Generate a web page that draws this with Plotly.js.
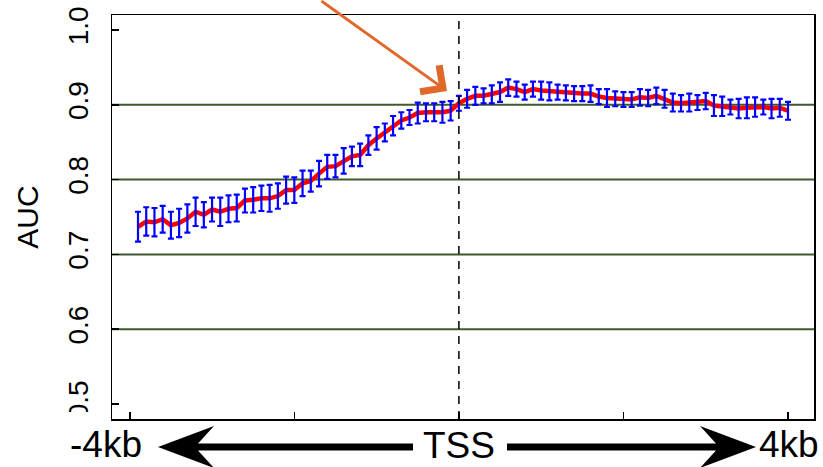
<!DOCTYPE html>
<html><head><meta charset="utf-8">
<script src="https://cdn.plot.ly/plotly-3.0.1.min.js"></script>
<style>html,body{margin:0;padding:0;background:#fff}#chart{width:823px;height:467px}</style>
</head><body><div id="chart"></div><script>
// ---- data (bp relative to TSS) ----
const positions = [-3900,-3800,-3700,-3600,-3500,-3400,-3300,-3200,-3100,-3000,
  -2900,-2800,-2700,-2600,-2500,-2400,-2300,-2200,-2100,-2000,
  -1900,-1800,-1700,-1600,-1500,-1400,-1300,-1200,-1100,-1000,
  -900,-800,-700,-600,-500,-400,-300,-200,-100,0,
  100,200,300,400,500,600,700,800,900,1000,
  1100,1200,1300,1400,1500,1600,1700,1800,1900,2000,
  2100,2200,2300,2400,2500,2600,2700,2800,2900,3000,
  3100,3200,3300,3400,3500,3600,3700,3800,3900,4000];
const auc = [0.737,0.744,0.743,0.747,0.739,0.742,0.748,0.757,0.753,0.760,
  0.757,0.761,0.762,0.772,0.773,0.775,0.775,0.778,0.786,0.786,
  0.795,0.798,0.808,0.817,0.818,0.825,0.831,0.833,0.846,0.855,
  0.863,0.872,0.879,0.883,0.889,0.890,0.890,0.890,0.892,0.902,
  0.908,0.912,0.912,0.914,0.917,0.923,0.921,0.917,0.921,0.919,
  0.918,0.917,0.916,0.915,0.915,0.915,0.911,0.909,0.908,0.907,
  0.907,0.910,0.909,0.912,0.908,0.903,0.902,0.903,0.903,0.905,
  0.899,0.898,0.897,0.895,0.896,0.897,0.897,0.895,0.896,0.892];
const aucErr = [0.020,0.019,0.019,0.018,0.018,0.019,0.019,0.019,0.017,0.016,
  0.019,0.018,0.018,0.016,0.017,0.017,0.018,0.017,0.018,0.017,
  0.017,0.014,0.017,0.016,0.015,0.017,0.013,0.015,0.013,0.015,
  0.012,0.013,0.011,0.010,0.014,0.012,0.012,0.014,0.013,0.010,
  0.012,0.012,0.010,0.012,0.013,0.011,0.010,0.010,0.010,0.012,
  0.012,0.010,0.010,0.010,0.010,0.011,0.010,0.012,0.010,0.010,
  0.010,0.011,0.011,0.011,0.012,0.012,0.011,0.012,0.010,0.011,
  0.014,0.013,0.010,0.013,0.014,0.013,0.010,0.013,0.012,0.012];
const yTickValues = [0.5,0.6,0.7,0.8,0.9,1.0];
const yTickLabels = ['0.5','0.6','0.7','0.8','0.9','1.0'];
const xTickValues = [-4000,-2000,0,2000,4000];
const gridValues = [0.6,0.7,0.8,0.9];
const tssPosition = 0;
const bottomLabels = ['-4kb','TSS','4kb'];
const yTitle = 'AUC';

// ---- geometry helpers (pixel -> paper) ----
const W = 823, H = 467, ML = 112, MR = 9, MT = 15, MB = 48;
const PW = W - ML - MR, PH = H - MT - MB;
const px = v => (v - ML) / PW;
const py = v => (H - MB - v) / PH;
function pathFrom(points){
  return points.map((p,i)=>(i?'L':'M')+px(p[0]).toFixed(5)+','+py(p[1]).toFixed(5)).join(' ')+' Z';
}
const ay0 = 447;
const leftArrow = pathFrom([[158,ay0],[214,ay0-21],[198,ay0-3.5],[413,ay0-3.5],[413,ay0+3.5],[198,ay0+3.5],[214,ay0+21]]);
const rightArrow = pathFrom([[756,ay0],[700,ay0-21],[716,ay0-3.5],[507,ay0-3.5],[507,ay0+3.5],[716,ay0+3.5],[700,ay0+21]]);

const shapes = gridValues.map(g => ({type:'line', xref:'paper', x0:0, x1:1, yref:'y', y0:g, y1:g,
  line:{color:'#3d5a2c', width:2}, layer:'below'}));
shapes.push({type:'line', xref:'x', x0:tssPosition, x1:tssPosition, yref:'paper', y0:0, y1:1,
  line:{color:'#000', width:1.5, dash:'8px,7px'}, layer:'above'});
shapes.push({type:'rect', xref:'paper', x0:px(0), x1:px(110.5), yref:'paper', y0:py(467), y1:py(412),
  fillcolor:'#fff', line:{width:0}, layer:'above'});
shapes.push({type:'path', xref:'paper', yref:'paper', path:leftArrow, fillcolor:'#000', line:{width:0}, layer:'above'});
shapes.push({type:'path', xref:'paper', yref:'paper', path:rightArrow, fillcolor:'#000', line:{width:0}, layer:'above'});

const bottomFont = {family:'Liberation Sans, Arial, sans-serif', size:37, color:'#000'};
const annotations = [
  {text:bottomLabels[0], xref:'paper', yref:'paper', x:px(106), y:py(444), xanchor:'center', yanchor:'middle', showarrow:false, font:bottomFont},
  {text:bottomLabels[1], xref:'paper', yref:'paper', x:px(459), y:py(445), xanchor:'center', yanchor:'middle', showarrow:false, font:bottomFont},
  {text:bottomLabels[2], xref:'paper', yref:'paper', x:px(789), y:py(444), xanchor:'center', yanchor:'middle', showarrow:false, font:bottomFont},
  {text:'', xref:'paper', yref:'paper', x:px(447), y:py(91), ax:-127, ay:-97, showarrow:true,
   arrowhead:4, arrowsize:2.1, arrowwidth:3, arrowcolor:'#e0692a'}
];

const traces = [
  {x:positions, y:auc, type:'scatter', mode:'lines', line:{color:'#ff0000', width:4.5}, hoverinfo:'skip'},
  {x:positions, y:auc, type:'scatter', mode:'markers', marker:{size:1, color:'rgba(0,0,0,0)'},
   error_y:{type:'data', array:aucErr, visible:true, color:'#0000ff', thickness:2.2, width:3}, hoverinfo:'skip'}
];

const layout = {
  width:W, height:H, margin:{l:ML, r:MR, t:MT, b:MB, pad:0},
  paper_bgcolor:'#fff', plot_bgcolor:'#fff', showlegend:false,
  font:{family:'Liberation Sans, Arial, sans-serif', color:'#000'},
  xaxis:{range:[-4216,4316], tickvals:xTickValues, showticklabels:false, ticks:'inside', ticklen:7, tickwidth:1.5,
    tickcolor:'#000', showline:true, linecolor:'#000', linewidth:1.5, mirror:true, showgrid:false, zeroline:false, fixedrange:true},
  yaxis:{range:[0.48,1.02], tickvals:yTickValues, ticktext:yTickLabels, tickangle:-90, ticks:'inside', ticklen:7, tickwidth:1.5,
    tickcolor:'#000', showline:true, linecolor:'#000', linewidth:1.5, mirror:true, showgrid:false, zeroline:false,
    tickfont:{size:28, color:'#000'}, ticklabelstandoff:11,
    title:{text:yTitle, font:{size:30, color:'#000'}, standoff:16}, automargin:false, fixedrange:true},
  shapes:shapes, annotations:annotations
};
Plotly.newPlot('chart', traces, layout, {displayModeBar:false, staticPlot:true});
</script></body></html>
